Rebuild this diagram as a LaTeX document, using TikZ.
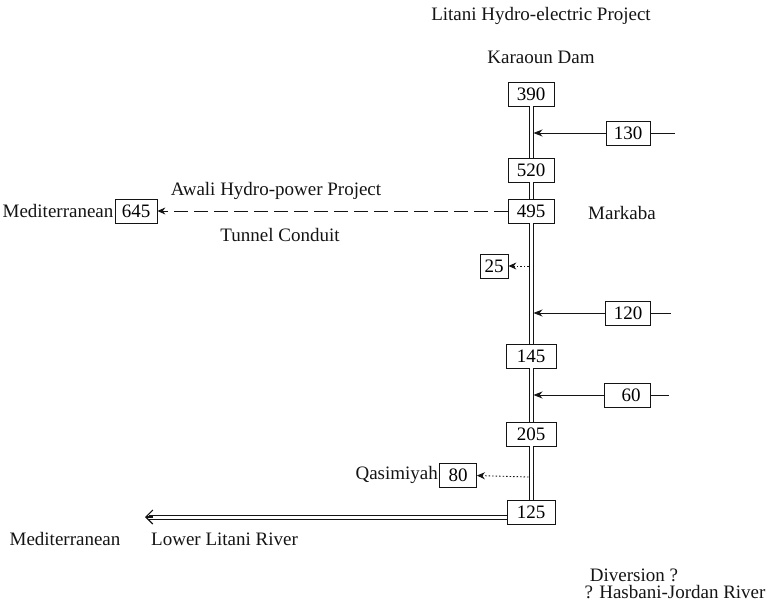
\documentclass[tikz,border=0pt]{standalone}
\usepackage{fontspec}
\setmainfont{Liberation Serif}
\usetikzlibrary{arrows.meta,positioning}
\definecolor{Ink}{RGB}{20,20,20}
\tikzset{
  flowbox/.style={draw=Ink,line width=0.8pt,minimum width=46pt,minimum height=24pt,inner sep=1pt},
  placename/.style={inner sep=1pt,text=Ink},
  river/.style={draw=Ink,line width=1pt,double=white,double distance=3pt},
  inflow/.style={draw=Ink,line width=0.8pt,-{Stealth[length=9pt,width=7pt]}},
  spill/.style={draw=Ink,line width=0.9pt,dash pattern=on 1.5pt off 2pt,-{Stealth[length=8pt,width=7pt]}},
  tunnel/.style={draw=Ink,line width=0.9pt,dash pattern=on 14pt off 6pt,-{Stealth[length=8pt,width=7pt]}},
}

\begin{document}
\begin{tikzpicture}[x=1pt,y=-1pt,font=\fontsize{19}{21}\selectfont]
  \useasboundingbox (0,0) rectangle (774,604);
  % headings
  \node[placename] (title) at (541,16) {Litani Hydro-electric Project};
  \node[placename] (dam) at (541,57) {Karaoun Dam};
  % main river boxes
  \node[flowbox] (b390) at (531,94) {390};
  \node[flowbox] (b520) at (531,170) {520};
  \node[flowbox] (b495) at (531,211) {495};
  \node[flowbox,minimum width=50pt] (b145) at (531,356) {145};
  \node[flowbox,minimum width=50pt] (b205) at (531,434) {205};
  \node[flowbox,minimum width=48pt] (b125) at (531,512) {125};
  \node[placename] (markaba) at (622,213) {Markaba};
  % tributaries
  \node[flowbox,minimum width=44pt] (b130) at (628,133) {130};
  \node[flowbox,minimum width=45pt] (b120) at (628,313) {120};
  \node[flowbox,minimum width=46pt] (b60) at (627,395) {\hspace*{8pt}60};
  \coordinate (in130) at (675,133);
  \coordinate (in120) at (671,313);
  \coordinate (in60) at (669,395);
  \coordinate (j130) at (533.5,133);
  \coordinate (j120) at (533.5,313);
  \coordinate (j60) at (533.5,395);
  % offtakes
  \node[flowbox,minimum width=42pt] (b645) at (136,211) {645};
  \node[placename,anchor=east] (medA) at (b645.west) {Mediterranean};
  \node[placename] (awali) at (276,191) {Awali Hydro-power Project};
  \node[placename] (conduit) at (280,235) {Tunnel Conduit};
  \node[flowbox,minimum width=28pt] (b25) at (494,266) {25};
  \coordinate (o25) at (528.5,266);
  \node[flowbox,minimum width=37pt] (b80) at (458,475) {80};
  \node[placename,anchor=east] (qasim) at (b80.west) {Qasimiyah};
  \coordinate (o80) at (528.5,477);
  % lower river
  \coordinate (sea) at (145,517);
  \node[placename] (medB) at (65,539) {Mediterranean};
  \node[placename,anchor=west] (lower) at (150,539) {Lower Litani River};
  \node[placename] (div) at (634,575) {Diversion ?};
  \node[placename] (hasbani) at (675,592) {? Hasbani-Jordan River};

  \draw[river] (b390) -- (b520);
  \draw[river] (b520) -- (b495);
  \draw[river] (b495) -- (b145);
  \draw[river] (b145) -- (b205);
  \draw[river] (b205) -- (b125);
  \draw[river] ([yshift=-5pt]b125.west) -- ([xshift=4pt]sea);
  \draw[draw=Ink,line width=1.1pt,-{Straight Barb[length=7pt,width=14pt]}] ([xshift=8pt]sea) -- (sea);

  \draw[draw=Ink,line width=0.8pt] (b130.east) -- (in130);
  \draw[draw=Ink,line width=0.8pt] (b120.east) -- (in120);
  \draw[draw=Ink,line width=0.8pt] (b60.east) -- (in60);
  \draw[inflow] (b130) -- (j130);
  \draw[inflow] (b120) -- (j120);
  \draw[inflow] (b60) -- (j60);

  \draw[tunnel] (b495) -- (b645);
  \draw[spill] (o25) -- (b25);
  \draw[spill] (o80) -- (b80);
\end{tikzpicture}
\end{document}
